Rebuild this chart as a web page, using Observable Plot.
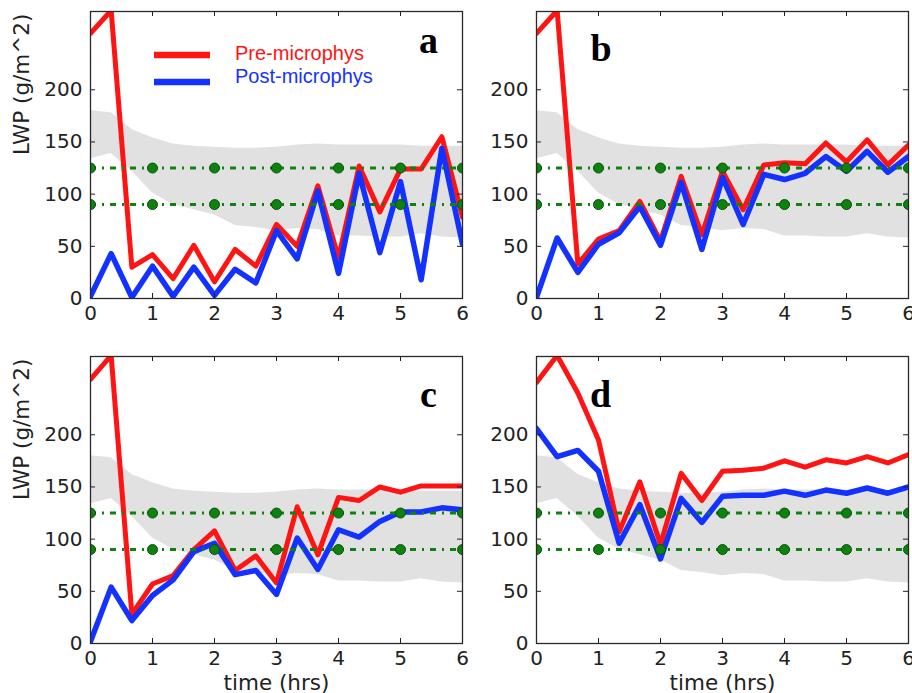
<!DOCTYPE html>
<html><head><meta charset="utf-8">
<script src="https://cdn.jsdelivr.net/npm/d3@7"></script>
<script src="https://cdn.jsdelivr.net/npm/@observablehq/plot@0.6"></script>
<style>
body{margin:0;background:#fff;}
#root{position:relative;width:912px;height:693px;overflow:hidden;background:#fff;}
.panel{position:absolute;}
.panel svg{overflow:visible;}
#legend{position:absolute;left:150px;top:40px;font-family:"Liberation Sans",Arial,sans-serif;font-size:20px;}
</style></head><body><div id="root"></div>
<script>
// ---- data ----
const hours = [0, 0.333, 0.667, 1, 1.333, 1.667, 2, 2.333, 2.667, 3, 3.333, 3.667, 4, 4.333, 4.667, 5, 5.333, 5.667, 6];
const bandUpper = [180, 178, 162, 154, 148, 146, 145, 144, 144, 145, 147, 148, 147, 147, 147, 147, 146, 146, 146];
const bandLower = [134, 139, 122, 101, 90, 85, 80, 70, 68, 65, 67, 66, 60, 60, 59, 59, 62, 59, 58];
const preA  = [254, 276, 30, 42, 19, 51, 16, 47, 31, 71, 50, 108, 39, 127, 83, 124, 124, 155, 78];
const postA = [2, 43, 1, 31, 2, 30, 3, 28, 15, 65, 38, 103, 24, 120, 44, 112, 18, 144, 52];
const preB  = [254, 276, 33, 57, 65, 93, 55, 117, 61, 122, 85, 128, 130, 129, 149, 131, 152, 128, 147];
const postB = [1, 58, 25, 52, 63, 88, 51, 111, 47, 116, 71, 119, 114, 120, 136, 122, 141, 121, 136];
const preC  = [253, 276, 28, 57, 65, 90, 108, 70, 84, 58, 131, 85, 140, 137, 150, 145, 151, 151, 151];
const postC = [2, 54, 22, 46, 61, 88, 96, 66, 70, 47, 101, 71, 109, 102, 117, 126, 126, 130, 128];
const preD  = [250, 276, 240, 195, 107, 155, 95, 163, 137, 165, 166, 168, 175, 169, 176, 173, 179, 173, 181];
const postD = [206, 179, 185, 165, 96, 133, 81, 139, 116, 141, 142, 142, 146, 142, 147, 144, 149, 144, 150];
const obsLevels = [90, 125];
const obsHours = [0, 1, 2, 3, 4, 5, 6];
const xTicks = [0, 1, 2, 3, 4, 5, 6];
const yTicks = [0, 50, 100, 150, 200];
const yDomain = [0, 275];
const seriesNames = ["Pre-microphys", "Post-microphys"];
const yTitle = "LWP (g/m^2)";
const xTitle = "time (hrs)";

const RED = "#ff1414", BLUE = "#1432ff", GREEN = "#0e820e";

const root = document.getElementById("root");

function panel(o) {
  const fw = o.width - o.ml - o.mr, fh = o.height - o.mt - o.mb;
  const rows = hours.map((h, i) => ({h, pre: o.pre[i], post: o.post[i], lo: bandLower[i], hi: bandUpper[i]}));
  const obs = obsHours.flatMap(h => obsLevels.map(v => ({h, v})));
  const marks = [
    Plot.areaY(rows, {x: "h", y1: "lo", y2: "hi", fill: "#e1e1e1"}),
    Plot.line(rows, {x: "h", y: "pre", stroke: RED, strokeWidth: 5, clip: true}),
    Plot.line(rows, {x: "h", y: "post", stroke: BLUE, strokeWidth: 5.5, clip: true}),
    Plot.ruleY(obsLevels, {y: d => d, stroke: GREEN, strokeWidth: 3, strokeDasharray: "6,6,2,6"}),
    Plot.dot(obs, {x: "h", y: "v", r: 5, fill: GREEN, stroke: "#0a500a", strokeWidth: 1, clip: true}),
    Plot.tickX(xTicks, {x: d => d, insetTop: fh - 5, stroke: "#222"}),
    Plot.tickX(xTicks, {x: d => d, insetBottom: fh - 5, stroke: "#222"}),
    Plot.tickY(yTicks, {y: d => d, insetRight: fw - 5, stroke: "#222"}),
    Plot.tickY(yTicks, {y: d => d, insetLeft: fw - 5, stroke: "#222"}),
    Plot.frame({stroke: "#2a2a2a", strokeWidth: 1.3}),
    Plot.axisX(xTicks, {tickSize: 0, tickPadding: 7, label: null}),
    Plot.axisY(yTicks, {tickSize: 0, tickPadding: 8, label: null}),
    Plot.text([o.letter], {text: d => d, frameAnchor: "top-left", dx: o.ldx, dy: o.ldy, lineAnchor: "bottom", textAnchor: "middle",
      fontFamily: "Liberation Serif", fontWeight: "bold", fontSize: 38, fill: "#000"})
  ];
  if (o.yLabel) marks.push(Plot.text([yTitle], {text: d => d, frameAnchor: "left", dx: -68.5, rotate: -90, fontSize: 21.5, fill: "#222"}));
  if (o.xLabel) marks.push(Plot.text([xTitle], {text: d => d, frameAnchor: "bottom", dy: 46, lineAnchor: "bottom", fontSize: 21.5, fill: "#222"}));
  const chart = Plot.plot({
    width: o.width, height: o.height,
    marginLeft: o.ml, marginRight: o.mr, marginTop: o.mt, marginBottom: o.mb,
    x: {domain: [0, 6], label: null},
    y: {domain: yDomain, label: null},
    style: {fontFamily: "DejaVu Sans", fontSize: "20px", color: "#222", background: "transparent"},
    marks
  });
  const div = document.createElement("div");
  div.className = "panel";
  div.style.left = o.left + "px";
  div.style.top = o.top + "px";
  div.appendChild(chart);
  root.appendChild(div);
}

const col1 = {left: 0, width: 472, ml: 90, mr: 10};
const col2 = {left: 472, width: 440, ml: 64, mr: 4};
const row1 = {top: 0, height: 340, mt: 11, mb: 42};
const row2 = {top: 340, height: 353, mt: 16, mb: 50};

panel({...col1, ...row1, pre: preA, post: postA, letter: "a", ldx: 338, ldy: 41, yLabel: true});
panel({...col2, ...row1, pre: preB, post: postB, letter: "b", ldx: 64.5, ldy: 49});
panel({...col1, ...row2, pre: preC, post: postC, letter: "c", ldx: 338, ldy: 50.7, yLabel: true, xLabel: true});
panel({...col2, ...row2, pre: preD, post: postD, letter: "d", ldx: 64, ldy: 50.7, xLabel: true});

// legend (panel a)
const leg = document.createElement("div");
leg.id = "legend";
leg.innerHTML = `<svg width="230" height="56" style="overflow:visible">
  <line x1="4" x2="60" y1="15" y2="15" stroke="${RED}" stroke-width="6.5"/>
  <line x1="4" x2="60" y1="42" y2="42" stroke="${BLUE}" stroke-width="6.5"/>
  <text x="85" y="19.5" fill="${RED}" font-size="20">${seriesNames[0]}</text>
  <text x="85" y="43" fill="${BLUE}" font-size="20">${seriesNames[1]}</text>
</svg>`;
root.appendChild(leg);
</script>
</body></html>
